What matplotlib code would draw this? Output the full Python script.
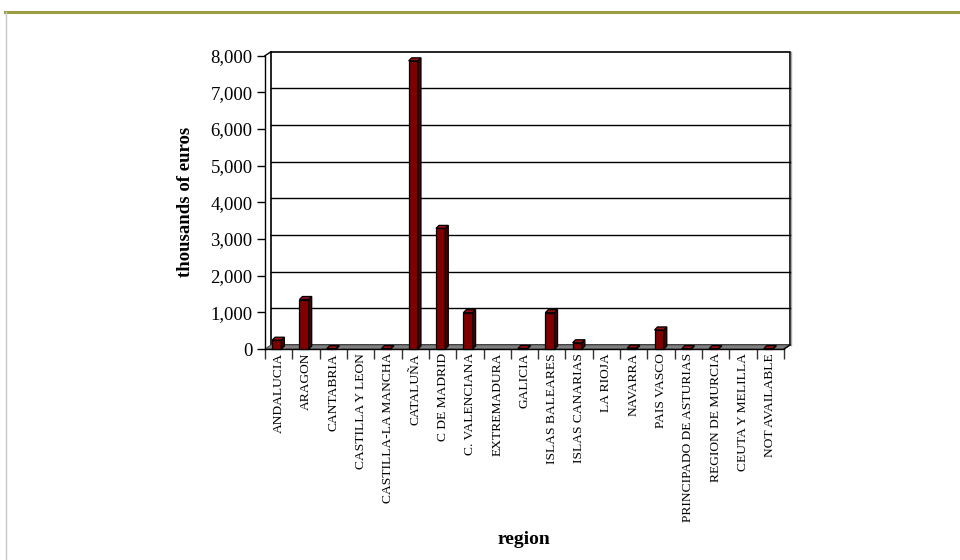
import matplotlib
matplotlib.use("Agg")
import matplotlib.pyplot as plt
from matplotlib.patches import Polygon, Rectangle
from matplotlib.lines import Line2D

regions = ["ANDALUCIA", "ARAGON", "CANTABRIA", "CASTILLA Y LEON", "CASTILLA-LA MANCHA",
           "CATALUÑA", "C DE MADRID", "C. VALENCIANA", "EXTREMADURA", "GALICIA",
           "ISLAS BALEARES", "ISLAS CANARIAS", "LA RIOJA", "NAVARRA", "PAIS VASCO",
           "PRINCIPADO DE ASTURIAS", "REGION DE MURCIA", "CEUTA Y MELILLA", "NOT AVAILABLE"]
values = [240, 1350, 10, 0, 10, 7860, 3290, 990, 0, 15,
          990, 170, 0, 25, 520, 10, 10, 0, 10]
yticks = [0, 1000, 2000, 3000, 4000, 5000, 6000, 7000, 8000]
ytick_labels = ["0", "1,000", "2,000", "3,000", "4,000", "5,000", "6,000", "7,000", "8,000"]

W, H = 960, 560
fig = plt.figure(figsize=(W / 100, H / 100), dpi=100)
serif = ["Liberation Serif", "DejaVu Serif"]

# frame decorations
fig.add_artist(Line2D([5 / W, 1], [1 - 12 / H, 1 - 12 / H], color="#9c9c44", lw=2.2))
fig.add_artist(Line2D([5.5 / W, 5.5 / W], [0, 1 - 12 / H], color="#c8c8c8", lw=1))

x_left, x_right, y_bot, y_top = 265, 784, 349, 55.7
ax = fig.add_axes([x_left / W, 1 - y_bot / H, (x_right - x_left) / W, (y_bot - y_top) / H])
n = len(regions)
ymax = 8000
ax.set_xlim(0, n)
ax.set_ylim(0, ymax)
ax.set_facecolor("none")
for s in ["top", "right", "bottom"]:
    ax.spines[s].set_visible(False)
ax.spines["left"].set_linewidth(1)

px_x = n / (x_right - x_left)
px_y = ymax / (y_bot - y_top)
DX, DY = 6 * px_x, 4 * px_y

# back wall
ax.add_patch(Rectangle((DX, DY), n, ymax, facecolor="white", edgecolor="black", lw=1.2,
                       clip_on=False, zorder=0))
for t in yticks[1:-1]:
    ax.plot([DX, n + DX], [t + DY, t + DY], color="black", lw=1, clip_on=False, zorder=1)
# wall right shadow
ax.plot([n + DX + 1.2 * px_x] * 2, [DY, ymax + DY], color="#aaaaaa", lw=1, clip_on=False, zorder=0)

# floor
ax.add_patch(Polygon([(0, 0), (n, 0), (n + DX, DY), (DX, DY)], closed=True,
                     facecolor="#808080", edgecolor="#555555", lw=0.8, clip_on=False, zorder=1))
ax.plot([0, n], [0, 0], color="black", lw=1, clip_on=False, zorder=2)
ax.plot([0, DX], [ymax, ymax + DY], color="black", lw=1, clip_on=False, zorder=2)
ax.plot([n, n + DX], [0, DY], color="black", lw=1, clip_on=False, zorder=2)

# bars
bw = 0.34
bdx, bdy = 3 * px_x, 3 * px_y
front_c, side_c, top_c = "#800000", "#4a0000", "#9a1010"
for i, v in enumerate(values):
    if v <= 0:
        continue
    x0 = i + 0.26
    ax.add_patch(Rectangle((x0, 0), bw, v, facecolor=front_c, edgecolor="black", lw=0.9,
                           clip_on=False, zorder=3))
    ax.add_patch(Polygon([(x0 + bw, 0), (x0 + bw + bdx, bdy), (x0 + bw + bdx, v + bdy), (x0 + bw, v)],
                         closed=True, facecolor=side_c, edgecolor="black", lw=0.9, clip_on=False, zorder=3))
    ax.add_patch(Polygon([(x0, v), (x0 + bdx, v + bdy), (x0 + bw + bdx, v + bdy), (x0 + bw, v)],
                         closed=True, facecolor=top_c, edgecolor="black", lw=0.9, clip_on=False, zorder=3))

# ticks
ax.set_yticks(yticks)
ax.set_yticklabels(ytick_labels, fontfamily=serif, fontsize=13.5)
ax.tick_params(axis="y", direction="out", length=6, width=1, pad=3)
ax.set_xticks(range(n + 1))
ax.set_xticklabels([""] * (n + 1))
ax.tick_params(axis="x", direction="out", length=7, width=1, color="#333333")
for i, name in enumerate(regions):
    ax.text(i + 0.5, -4 * px_y, name, rotation=90, ha="center", va="top",
            fontfamily=serif, fontsize=9.7, clip_on=False)

ax.set_ylabel("thousands of euros", fontfamily=serif, fontsize=13.5, fontweight="bold", labelpad=12)
fig.text(524 / W, 1 - 540 / H, "region", fontfamily=serif, fontsize=14, fontweight="bold",
         ha="center", va="center")

fig.savefig("out.png", dpi=100)
